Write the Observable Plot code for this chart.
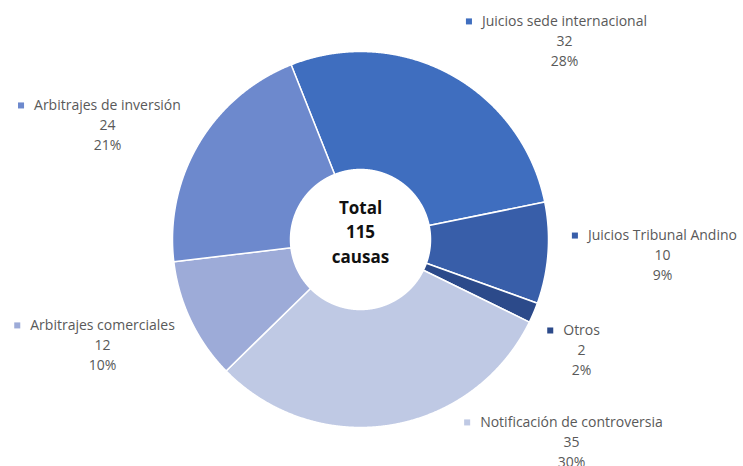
<!DOCTYPE html>
<html><head><meta charset="utf-8">
<script src="https://cdn.jsdelivr.net/npm/d3@7"></script>
<script src="https://cdn.jsdelivr.net/npm/@observablehq/plot@0.6"></script>
<style>html,body{margin:0;padding:0;background:#fff} svg{display:block}</style>
</head><body><div id="chart"></div>
<script>
// ---- data ----
const categories = ["Juicios sede internacional", "Juicios Tribunal Andino", "Otros", "Notificación de controversia", "Arbitrajes comerciales", "Arbitrajes de inversión"];
const values = [32, 10, 2, 35, 12, 24];
const centerWords = ["Total", "causas"];
// label anchors (in units of outer radius, relative to the donut centre)
const labelX = [1.085, 1.606, 1.176, 1.122, -1.372, -1.346];
const labelY = [1.160, 0.021, -0.484, -0.973, -0.457, 0.713];

// ---- styles ----
const colors = ["#3F6EBF", "#385EA9", "#2C4A8A", "#BFC9E4", "#9DABD8", "#6D89CD"];
const FONT = "Open Sans";
const FS = 14;
const W = 743, H = 466, CX = 360, CY = 239, R = 188, INNER = 70 / R;
const startAngle = -0.378;

const total = d3.sum(values);
const arcs = d3.pie().sort(null).startAngle(startAngle).endAngle(startAngle + 2 * Math.PI)(values);

const pts = [];
arcs.forEach((a, i) => {
  const name = categories[i];
  const n = Math.max(4, Math.ceil((a.endAngle - a.startAngle) / 0.004));
  const ring = [];
  for (let k = 0; k <= n; k++) {
    const t = a.startAngle + (a.endAngle - a.startAngle) * k / n;
    ring.push({name, x: Math.sin(t), y: Math.cos(t)});
  }
  for (let k = n; k >= 0; k--) {
    const t = a.startAngle + (a.endAngle - a.startAngle) * k / n;
    ring.push({name, x: INNER * Math.sin(t), y: INNER * Math.cos(t)});
  }
  ring.push({...ring[0]});
  pts.push(...ring);
});

const ctx = document.createElement("canvas").getContext("2d");
ctx.font = `${FS}px "${FONT}"`;
const MGAP = 13; // marker centre to text start, px
const labels = categories.map((name, i) => {
  const w = ctx.measureText(name).width;
  return {
    name, value: values[i], pct: Math.round(values[i] / total * 100),
    x: labelX[i], y: labelY[i],
    mx: labelX[i] - (w / 2 + MGAP) / R
  };
});

const chart = Plot.plot({
  width: W, height: H, margin: 0,
  style: {background: "#fff", fontFamily: FONT},
  x: {domain: [-CX / R, (W - CX) / R], range: [0, W], axis: null},
  y: {domain: [-(H - CY) / R, CY / R], range: [H, 0], axis: null},
  color: {domain: categories, range: colors},
  marks: [
    Plot.line(pts, {x: "x", y: "y", z: "name", fill: "name", stroke: "white", strokeWidth: 1.5, curve: "linear", strokeLinejoin: "round"}),
    Plot.dot(labels, {x: "mx", y: "y", fill: "name", symbol: "square", r: 3.4, stroke: null}),
    Plot.text(labels, {x: "x", y: "y", text: "name", fill: "#595959", fontSize: FS, fontFamily: FONT}),
    Plot.text(labels, {x: "x", y: "y", text: d => `${d.value}`, dy: 20, fill: "#595959", fontSize: FS, fontFamily: FONT}),
    Plot.text(labels, {x: "x", y: "y", text: d => `${d.pct}%`, dy: 40, fill: "#595959", fontSize: FS, fontFamily: FONT}),
    Plot.text([{x: 0, y: 0}], {x: "x", y: "y", text: () => `${centerWords[0]}\n${total}\n${centerWords[1]}`, dy: -9, fontWeight: "bold", fontSize: 17, lineHeight: 1.45, fill: "#111", fontFamily: FONT})
  ]
});
document.getElementById("chart").append(chart);
</script>
</body></html>
